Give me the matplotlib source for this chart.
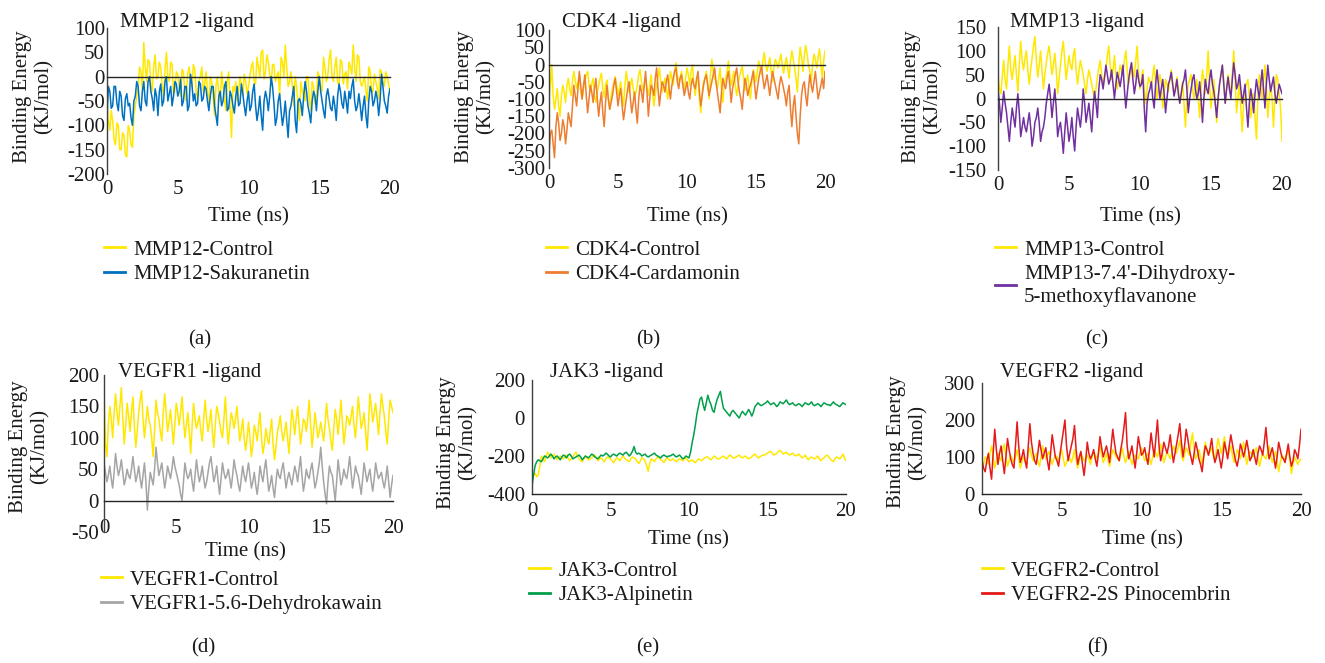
import numpy as np
import matplotlib
matplotlib.use("Agg")
import matplotlib.pyplot as plt
from matplotlib.lines import Line2D

plt.rcParams['font.family'] = ['Liberation Serif', 'DejaVu Serif']
plt.rcParams['axes.unicode_minus'] = False

# ---- data (kJ/mol, one value every 0.1 ns, 0-20 ns) ----
mmp12_control = [-50, -90, -110, -70, -90, -130, -140, -95, -100, -150, -150, -115, -120, -160, -165, -100, -110, -140, -145, -80, -60,
                 -40, -20, 20, 10, -30, 70, 20, -10, 35, 30, -15, -30, 20, 45, -5, 0, 30, 20, -20, -40, 15, 50, 0, -10, 30, 25, -35, -30, 10, 5,
                 -20, -40, 15, 10, -30, -50, 5, 20, -10, -20, 25, 15, -30, -45, -10, 0, 20, -30, -15, 10,
                 -30, -60, 0, -10, -40, -80, -20, 0, -35, -50, 10, -20, -45, -70, -10, 10, -60, -125, -20, -30,
                 -10, -50, -30, 0, -20, -40, 5, -10, -35, -20,
                 0, 20, 30, -10, -15, 40, 20, 0, 50, 55, -5, 10, 45, 30, 5, -20, 25, 25, -10, 0,
                 10, -40, 40, 30, 0, 65, 20, -20, -10, 10,
                 -20, -60, 0, -20, -60, -90, -10, -30, -40, -50, 0, 0, -50, -70, -10, -20, -55, -40, 10, 0,
                 -20, -30, 40, 20, -10, 0, 35, 55, 0, -10, 20, 40, -10, -20, 35, 30, -15, 5, 10, -25,
                 30, 20, 5, 65, 20, -10, 45, 40, -10, -20,
                 -10, 0, -30, -50, 20, 10, -30, -30, 5, -10, -25, -45, 15, 10, -10, -20, 10, 0, -15, -35]
mmp12_sakuranetin = [-80, -20, -30, -65, -60, -20, -20, -55, -70, -30, -40, -80, -90, -45, -35, -60, -55, -85, -100, -50, -40,
                     -10, -20, -60, -70, -30, -10, -50, -60, -10, 0, -30, -45, -70, -25, -40, -80, -30, -15, -60, -50, -10, 0, -50, -35, -20, -60, -40, -10, -15, -40,
                     -30, -5, -60, -50, -20, -20, -70, -60, 5, -15, -50, -35, -60, -55, -10, -15, -50, -45, -20, -25,
                     -50, -70, -40, -20, -20, -60, -80, -100, -40, -30, -60, -50, -20, -10, -70, -65, -30, -40, -60, -75,
                     -40, -20, -60, -55, -15, -35, -60, -80, -50, -30,
                     -70, -60, -30, -15, -60, -90, -70, -40, -80, -110, -50, -30, -45, -70, -40, 0, -20, -55, -100, -85,
                     -50, -35, -70, -100, -80, -50, -90, -125, -70, -60,
                     -40, -20, -90, -115, -50, -45, -55, -80, -40, -10, -30, -60, -75, -95, -50, -30, -40, -70, -30, 0,
                     -30, -50, -70, -85, -40, -25, -45, -65, -70, -40, -60, -90, -40, -15, -30, -55, -65, -30, -50, -75,
                     -30, -45, -20, -5, -50, -70, -60, -35, -60, -90,
                     -60, -40, -80, -105, -50, -20, -30, -60, -50, -30, -45, -80, -50, 5, -20, -50, -60, -75, -40, -25]

cdk4_control = [-100, -60, 0, -90, -130, -100, -70, -120, -150, -90, -60, -80, -110, -60, -40, -70, -90, -50, -20, -45, -70,
                -50, -30, -80, -100, -70, -50, -30, -20, -60, -80, -55, -40, -90, -110, -80, -60, -40, -25, -70, -95, -60, -45, -100, -130, -90, -70, -50, -35, -60, -90,
                -70, -50, -90, -120, -60, -20, -50, -80, -60, -40, -70, -100, -80, -60, -30, -15, -50, -75, -60, -45,
                -70, -90, -60, -30, -80, -120, -90, -55, -40, -10, -50, -80, -60, -40, -70, -100, -60, -20, -40, -60,
                -20, 5, -30, -50, -40, -20, -50, -80, -40, -10,
                -30, -60, -20, 0, -60, -90, -50, -30, -100, -140, -80, -50, -40, -20, -60, -100, -30, 15, -20, -40,
                -50, -70, -40, -10, -70, -110, -60, -40, -20, 10,
                -30, -60, -40, -20, -60, -90, -60, -35, -20, -5, -40, -75, -50, -30, -70, -100, -50, -15, -30, -50,
                -20, 10, -10, -30, 10, 35, 0, -20, 0, 20, -20, -50, -10, 15, 5, -10, 10, 30, 0, -25,
                0, 20, -10, -40, 10, 40, 15, -10, -40, -80,
                0, 50, 20, -20, 25, 55, 30, 0, -20, -50, 0, 30, 15, -10, 20, 45, 0, -40, 10, 40]
cdk4_cardamonin = [-260, -200, -190, -230, -270, -180, -140, -170, -220, -200, -160, -180, -230, -190, -140, -160, -180, -120, -60, -90, -120,
                   -70, -20, -60, -100, -60, -30, -90, -140, -100, -60, -80, -110, -70, -40, -100, -150, -110, -80, -140, -180, -110, -60, -100, -130, -110, -90, -60, -40, -80, -120,
                   -90, -70, -120, -160, -130, -100, -70, -50, -100, -140, -110, -80, -130, -170, -100, -60, -80, -110, -60, -20,
                   -80, -150, -100, -60, -70, -90, -40, -10, -70, -120, -80, -50, -60, -80, -50, -30, -70, -100, -60, -40,
                   -20, -10, -50, -70, -40, -30, -60, -90, -70, -50,
                   -80, -100, -60, -40, -60, -70, -40, -20, -80, -120, -90, -60, -40, -30, -60, -90, -70, -50, -30, -10,
                   -50, -80, -110, -140, -80, -40, -60, -70, -40, -20,
                   -60, -110, -70, -50, -30, -10, -50, -80, -100, -130, -80, -40, -60, -90, -70, -60, -40, -20, -60, -100,
                   -70, -40, -20, -5, -40, -70, -50, -30, -60, -90, -50, -20, -40, -60, -80, -100, -60, -35, -50, -70,
                   -90, -120, -80, -60, -130, -180, -120, -90, -150, -200,
                   -230, -150, -90, -60, -50, -90, -120, -70, -30, -60, -80, -50, -20, -60, -100, -80, -60, -40, -70, -20]

mmp13_control = [50, 20, 10, 45, 80, 40, 20, 70, 110, 60, 40, 65, 90, 50, 15, 70, 120, 80, 60, 85, 100,
                 60, 30, 60, 85, 110, 130, 80, 45, 70, 100, 60, 20, 50, 75, 95, 110, 80, 50, 70, 95, 60, 10, 40, 70, 100, 120, 80, 40, 65, 90,
                 70, 60, 90, 105, 60, 30, 55, 80, 65, 50, 30, 10, 40, 60, 45, 30, 15, 0, 20, 45,
                 65, 80, 50, 25, 40, 60, 90, 110, 70, 40, 60, 90, 50, 20, 40, 70, 60, 50, 80, 100,
                 60, 30, 50, 75, 60, 45, 80, 110, 50, 20,
                 40, 60, 20, -10, 20, 45, 35, 25, 50, 70, 30, 0, 25, 50, 30, -20, 10, 40, 30, 15,
                 40, 60, 30, 10, 25, 45, 20, -10, 10, 35,
                 -10, -60, 0, 30, 40, 50, 20, 0, 20, 40, 0, -40, 20, 60, 40, 10, 50, 100, 30, -20,
                 10, 40, -10, -50, 0, 30, 50, 70, 30, -10, 20, 50, 30, 5, 50, 100, 40, -30, 0, 35,
                 -20, -70, -10, 20, 30, 40, 0, -40, -10, 10,
                 -40, -85, 0, 50, 30, 0, 40, 70, 20, -40, 0, 30, 0, -60, 10, 50, 40, 10, -20, -90]
mmp13_ligand = [20, -10, -50, -20, 15, -10, -30, -60, -90, -50, -20, -40, -60, -20, 10, -30, -80, -60, -40, -60, -70,
                -50, -30, -60, -100, -80, -50, -40, -20, -50, -90, -70, -60, -40, -10, 10, 30, 0, -40, -10, 20, -20, -80, -60, -50, -80, -115, -70, -30, -60, -90,
                -70, -40, -80, -110, -60, -20, -40, -60, -30, 20, -10, -50, -30, -10, -40, -70, -20, 15, -10, -40,
                20, 50, 40, 20, 45, 70, 50, 30, 40, 60, 30, 0, 30, 55, 40, 25, 45, 70, 20, -20,
                10, 40, 60, 75, 40, 10, 30, 60, 40, 25,
                30, 50, -20, -70, -10, 10, 20, 35, 0, -20, 30, 60, 30, 0, 20, 40, 10, -30, 0, 30,
                40, 55, 30, 5, 20, 40, 10, -10, 10, 30,
                40, 60, 20, -30, 0, 20, 40, 50, 20, 0, 10, 35, 0, -50, 0, 40, 20, 10, 40, 60,
                30, 15, -10, -40, 0, 30, 50, 70, 30, -10, 20, 45, 20, 0, 40, 75, 50, 20, 30, 50,
                20, -10, 10, 30, -20, -60, -10, 20, 0, -30,
                10, 40, 20, 0, 30, 60, 20, -20, 30, 70, 40, 15, 30, 45, 10, -10, 10, 30, 20, 10]

vegfr1_control = [175, 90, 70, 120, 150, 130, 100, 140, 170, 140, 120, 150, 180, 130, 90, 120, 155, 135, 110, 140, 165,
                  120, 85, 110, 140, 160, 175, 130, 100, 125, 150, 130, 120, 100, 70, 110, 160, 140, 130, 110, 95, 140, 170, 140, 110, 125, 145, 120, 90, 120, 155,
                  140, 120, 140, 165, 130, 100, 120, 140, 110, 75, 120, 155, 130, 115, 125, 135, 110, 95, 130, 160,
                  130, 110, 125, 145, 110, 85, 120, 150, 140, 125, 110, 100, 130, 165, 120, 90, 115, 140, 130, 115,
                  130, 150, 120, 95, 110, 130, 100, 80, 100, 125,
                  100, 70, 90, 120, 110, 95, 120, 140, 100, 75, 90, 115, 100, 90, 110, 130, 90, 65, 85, 110,
                  120, 135, 110, 95, 110, 125, 100, 75, 110, 145,
                  130, 105, 130, 150, 120, 90, 110, 130, 125, 110, 130, 160, 120, 85, 110, 140, 120, 100, 110, 125,
                  110, 95, 120, 155, 130, 115, 95, 80, 115, 145, 130, 105, 130, 160, 125, 90, 110, 135, 130, 120,
                  135, 150, 120, 100, 130, 165, 140, 115, 125, 140,
                  110, 80, 120, 170, 150, 125, 140, 155, 130, 105, 140, 170, 150, 135, 110, 90, 130, 160, 150, 140]
vegfr1_dehydrokawain = [60, 45, 30, 40, 55, 35, 20, 45, 75, 55, 40, 50, 65, 45, 25, 35, 50, 40, 35, 50, 70,
                        50, 30, 40, 55, 35, 20, 40, 60, 30, -15, 20, 45, 35, 25, 50, 85, 60, 40, 50, 60, 40, 20, 35, 55, 45, 35, 50, 70, 55, 45,
                        35, 25, 10, 0, 30, 60, 45, 35, 40, 50, 30, 15, 40, 65, 45, 30, 40, 55, 35, 20,
                        30, 45, 60, 70, 50, 30, 40, 55, 30, 10, 35, 60, 45, 35, 40, 50, 35, 20, 40, 65,
                        50, 40, 25, 15, 35, 55, 40, 30, 45, 60,
                        40, 20, 30, 45, 25, 10, 30, 55, 40, 30, 50, 65, 40, 15, 25, 40, 20, 5, 30, 50,
                        40, 35, 50, 60, 40, 20, 35, 45, 35, 25,
                        40, 55, 45, 30, 50, 70, 40, 15, 30, 50, 40, 35, 50, 60, 40, 20, 30, 45, 60, 85,
                        55, 30, 10, -5, 30, 55, 45, 40, 20, 0, 30, 65, 45, 25, 35, 50, 40, 35, 50, 70,
                        45, 20, 35, 55, 45, 40, 25, 10, 35, 60,
                        45, 30, 40, 50, 30, 15, 35, 60, 45, 35, 40, 45, 30, 20, 35, 55, 30, 5, 25, 40]

jak3_control = [-330, -300, -290, -310, -300, -250, -200, -215, -230, -200, -180, -195, -210, -200, -190, -205, -220, -210, -200, -210, -215,
                -205, -195, -210, -225, -215, -205, -190, -180, -200, -215, -225, -230, -215, -200, -210, -220, -215, -210, -200, -195, -210, -225, -215, -210, -220, -230, -215, -205, -210, -215,
                -225, -235, -220, -210, -215, -225, -210, -200, -210, -220, -225, -230, -215, -205, -210, -215, -230, -240, -225, -210,
                -215, -225, -250, -280, -240, -215, -220, -230, -215, -205, -210, -220, -225, -235, -220, -210, -215, -225, -220, -215,
                -225, -230, -220, -215, -220, -225, -215, -210, -220, -230,
                -225, -220, -230, -235, -225, -215, -220, -225, -215, -210, -205, -205, -215, -220, -210, -200, -205, -215, -215, -210,
                -205, -200, -210, -215, -205, -195, -200, -210, -210, -205,
                -200, -195, -205, -210, -205, -200, -210, -215, -210, -205, -195, -190, -200, -210, -205, -200, -195, -195, -190, -185,
                -180, -175, -185, -195, -190, -185, -175, -170, -180, -190, -185, -180, -190, -195, -190, -185, -195, -200, -195, -190,
                -200, -210, -205, -195, -210, -220, -210, -205, -210, -215,
                -210, -200, -215, -225, -215, -210, -200, -195, -205, -215, -225, -230, -215, -205, -210, -215, -205, -190, -210, -225]
jak3_alpinetin = [-360, -300, -250, -230, -220, -225, -230, -215, -200, -205, -210, -200, -190, -200, -215, -205, -200, -210, -220, -205, -195,
                  -200, -210, -195, -190, -200, -215, -210, -205, -200, -195, -205, -220, -210, -200, -205, -210, -200, -190, -195, -205, -210, -215, -205, -195, -200, -195, -185, -190, -200, -205,
                  -195, -190, -195, -200, -190, -185, -190, -195, -185, -180, -190, -200, -190, -175, -150, -180, -190, -185, -190, -200,
                  -195, -190, -200, -205, -200, -195, -190, -185, -195, -200, -205, -210, -200, -195, -200, -205, -200, -200, -195, -190,
                  -200, -205, -200, -195, -205, -215, -210, -200, -205, -210,
                  -180, -130, -90, -40, 20, 60, 100, 110, 70, 40, 80, 120, 90, 70, 40, 30, 70, 100, 120, 140,
                  90, 50, 40, 30, 20, 10, 30, 40, 30, 20,
                  10, 0, 20, 35, 25, 15, 30, 45, 30, 10, 30, 60, 70, 80, 70, 65, 70, 75, 80, 90,
                  80, 70, 75, 80, 70, 60, 70, 85, 80, 75, 85, 95, 80, 70, 75, 80, 70, 65, 70, 75,
                  70, 60, 70, 80, 75, 70, 75, 85, 70, 65,
                  70, 75, 70, 60, 70, 80, 75, 70, 70, 65, 75, 85, 75, 70, 65, 60, 70, 80, 75, 70]

vegfr2_control = [60, 80, 100, 95, 80, 110, 130, 100, 70, 90, 110, 100, 90, 120, 135, 100, 75, 90, 105, 95, 85,
                  100, 120, 95, 70, 85, 100, 90, 80, 110, 125, 105, 90, 100, 110, 90, 75, 100, 130, 110, 95, 105, 115, 95, 80, 95, 105, 100, 90, 105, 120,
                  95, 75, 85, 100, 95, 85, 100, 120, 90, 70, 90, 110, 100, 90, 95, 105, 95, 80, 100, 115,
                  105, 95, 110, 130, 105, 85, 95, 110, 90, 75, 100, 120, 110, 100, 95, 90, 105, 125, 100, 85,
                  100, 115, 95, 80, 95, 105, 100, 95, 110, 125,
                  105, 90, 100, 110, 95, 80, 100, 120, 110, 100, 120, 135, 110, 85, 100, 115, 105, 95, 110, 130,
                  120, 110, 125, 145, 110, 90, 105, 125, 115, 105,
                  140, 165, 120, 95, 105, 120, 100, 80, 110, 140, 120, 105, 115, 125, 105, 90, 120, 150, 130, 110,
                  130, 155, 120, 100, 115, 130, 105, 85, 100, 120, 110, 95, 115, 140, 110, 80, 100, 115, 110, 100,
                  115, 125, 100, 75, 95, 110, 100, 95, 110, 130,
                  105, 85, 100, 115, 90, 60, 85, 105, 100, 90, 105, 120, 90, 55, 80, 100, 90, 80, 90, 95]
vegfr2_pinocembrin = [90, 70, 60, 90, 110, 70, 40, 110, 175, 120, 80, 110, 130, 90, 55, 100, 150, 120, 95, 80, 70,
                      130, 195, 130, 85, 100, 120, 90, 70, 130, 190, 140, 110, 90, 80, 110, 145, 120, 95, 110, 125, 90, 65, 110, 160, 130, 100, 90, 75, 110, 140,
                      170, 200, 130, 90, 110, 130, 150, 185, 120, 80, 100, 115, 80, 50, 90, 140, 110, 95, 105, 120,
                      95, 75, 110, 155, 125, 100, 115, 130, 110, 85, 130, 175, 140, 110, 100, 90, 120, 145, 180, 220,
                      130, 95, 110, 130, 100, 70, 110, 155, 130, 105,
                      110, 125, 100, 80, 120, 165, 130, 100, 150, 200, 130, 90, 110, 140, 125, 110, 130, 160, 120, 85,
                      110, 135, 160, 190, 140, 100, 130, 175, 150, 120,
                      100, 80, 110, 140, 120, 95, 80, 60, 100, 130, 120, 105, 125, 150, 110, 85, 100, 120, 95, 70,
                      100, 140, 120, 95, 130, 160, 135, 110, 90, 75, 100, 135, 120, 100, 120, 145, 120, 90, 100, 120,
                      100, 80, 110, 130, 120, 105, 140, 180, 130, 95,
                      110, 125, 100, 70, 100, 140, 120, 100, 95, 85, 110, 135, 100, 75, 90, 120, 110, 95, 130, 175]

titles = ["MMP12 -ligand", "CDK4 -ligand", "MMP13 -ligand",
          "VEGFR1 -ligand", "JAK3 -ligand", "VEGFR2 -ligand"]
controls = [mmp12_control, cdk4_control, mmp13_control,
            vegfr1_control, jak3_control, vegfr2_control]
ligands = [mmp12_sakuranetin, cdk4_cardamonin, mmp13_ligand,
           vegfr1_dehydrokawain, jak3_alpinetin, vegfr2_pinocembrin]
control_labels = ["MMP12-Control", "CDK4-Control", "MMP13-Control",
                  "VEGFR1-Control", "JAK3-Control", "VEGFR2-Control"]
ligand_labels = ["MMP12-Sakuranetin", "CDK4-Cardamonin",
                 "MMP13-7.4'-Dihydroxy-\n5-methoxyflavanone",
                 "VEGFR1-5.6-Dehydrokawain", "JAK3-Alpinetin",
                 "VEGFR2-2S Pinocembrin"]
panel_tags = ["(a)", "(b)", "(c)", "(d)", "(e)", "(f)"]

# ---- layout (pixels of the 1325x663 picture) ----
W, H = 1325, 663
YELLOW = "#FFE800"
lig_colors = ["#0070C0", "#ED7D31", "#7030A0", "#A5A5A5", "#00A04A", "#E51A1A"]
ylims = [(-200, 100), (-300, 100), (-150, 150), (-50, 200), (-400, 200), (0, 300)]
ysteps = [50, 50, 50, 50, 200, 100]
cross = [0, 0, 0, 0, -400, 0]
boxes = [(107, 390, 28, 174), (549, 825, 30, 168), (998, 1282, 27, 170),
         (104, 393, 375, 532), (532, 846, 380, 494), (982, 1301, 383, 494)]
ypads = [2, 4, 12, 5, 7, 7]
xpads = [6, 6, 6, -13, 8, 8]
title_pos = [(120, 22), (562, 22), (1010, 22), (118, 373), (550, 373), (1000, 373)]
ylab_pos = [(33, 97), (475, 97), (922, 97), (29, 447), (457, 443), (907, 442)]
xlab_pos = [(248, 217), (687, 217), (1140, 217), (245, 552), (688, 540), (1142, 540)]
leg_pos = [(104, 240), (546, 240), (995, 240), (101, 570), (529, 561), (982, 561)]
tag_pos = [(200, 340), (648, 340), (1097, 340), (203, 648), (648, 648), (1097, 648)]

FS = 15


def fx(x):
    return x / W


def fy(y):
    return 1 - y / H


fig = plt.figure(figsize=(W / 100, H / 100), dpi=100)

for i in range(6):
    x0, x1, y0, y1 = boxes[i]
    ax = fig.add_axes([fx(x0), fy(y1), (x1 - x0) / W, (y1 - y0) / H])
    c = np.array(controls[i])
    l = np.array(ligands[i])
    ax.plot(np.linspace(0, 20, len(c)), c, color=YELLOW, lw=1.1,
            label=control_labels[i])
    ax.plot(np.linspace(0, 20, len(l)), l, color=lig_colors[i], lw=1.1,
            label=ligand_labels[i])
    ax.axhline(cross[i], color="#262626", lw=1.0, clip_on=False, zorder=3)
    ax.set_xlim(0, 20)
    ax.set_ylim(*ylims[i])
    ax.set_xticks(range(0, 21, 5))
    ax.set_yticks(np.arange(ylims[i][0], ylims[i][1] + 1, ysteps[i]))
    for s in ["top", "right", "bottom"]:
        ax.spines[s].set_visible(False)
    ax.spines["left"].set_color("#404040")
    ax.spines["left"].set_linewidth(1.0)
    ax.tick_params(axis="both", length=0, labelsize=FS, colors="#1a1a1a")
    ax.tick_params(axis="y", pad=ypads[i] * 0.72)
    ax.tick_params(axis="x", pad=xpads[i] * 0.72)
    ax.patch.set_alpha(0)

    fig.text(fx(title_pos[i][0]), fy(title_pos[i][1]), titles[i],
             fontsize=FS, ha="left", va="center", color="#1a1a1a")
    fig.text(fx(ylab_pos[i][0]), fy(ylab_pos[i][1]), "Binding Energy\n(KJ/mol)",
             fontsize=FS, rotation=90, ha="center", va="center",
             multialignment="center", linespacing=1.15, color="#1a1a1a")
    fig.text(fx(xlab_pos[i][0]), fy(xlab_pos[i][1]), "Time (ns)",
             fontsize=FS, ha="center", va="center", color="#1a1a1a")
    fig.text(fx(tag_pos[i][0]), fy(tag_pos[i][1]), panel_tags[i],
             fontsize=FS, ha="center", va="center", color="#1a1a1a")

    handles = [Line2D([], [], color=YELLOW, lw=2),
               Line2D([], [], color=lig_colors[i], lw=2)]
    ax.legend(handles, [control_labels[i], ligand_labels[i]],
              loc="upper left", bbox_to_anchor=(fx(leg_pos[i][0]), fy(leg_pos[i][1])),
              bbox_transform=fig.transFigure, frameon=False, fontsize=FS,
              handlelength=1.0, handletextpad=0.4, labelspacing=0.25,
              borderaxespad=0, borderpad=0, labelcolor="#1a1a1a")

fig.savefig("out.png", dpi=100)
